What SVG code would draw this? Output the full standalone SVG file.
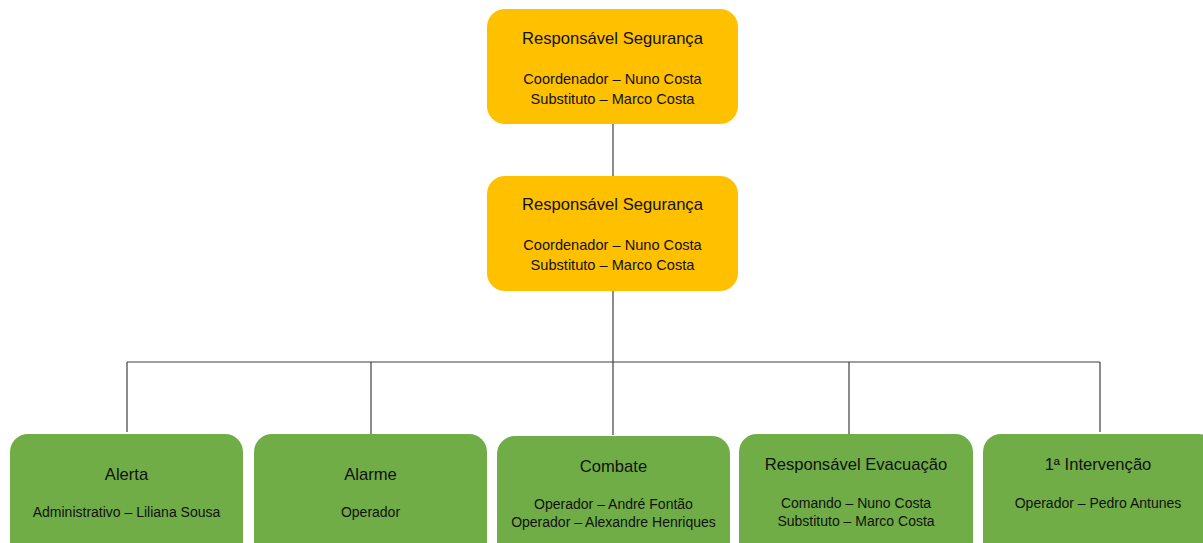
<svg xmlns="http://www.w3.org/2000/svg" width="1203" height="543" viewBox="0 0 1203 543">
<style>
.o{fill:#FFC000}
.g{fill:#70AD47}
text{font-family:"Liberation Sans",Arial,sans-serif;fill:#111;text-anchor:middle}
.t{font-size:16.6px}
.s{font-size:14.6px}
.tg{font-size:16.6px}
.sg{font-size:14px}
.c{stroke:#404040;stroke-width:1.2;fill:none}
</style>
<rect width="1203" height="543" fill="#fff"/>
<g id="connectors">
<path class="c" d="M613 124V176M613 291V362M127 362H1100M127 362V432M371 362V434M613 362V435M849 362V434M1100 362V432"/>
</g>
<g id="top">
<rect class="o" x="487" y="9" width="251" height="115" rx="18"/>
<text class="t" x="612.5" y="44">Responsável Segurança</text>
<text class="s" x="612.5" y="84">Coordenador – Nuno Costa</text>
<text class="s" x="612.5" y="104">Substituto – Marco Costa</text>
</g>
<g id="second">
<rect class="o" x="487" y="176" width="251" height="115" rx="18"/>
<text class="t" x="612.5" y="210">Responsável Segurança</text>
<text class="s" x="612.5" y="250">Coordenador – Nuno Costa</text>
<text class="s" x="612.5" y="270">Substituto – Marco Costa</text>
</g>
<g id="alerta">
<rect class="g" x="10" y="434" width="233" height="130" rx="18"/>
<text class="tg" x="126.5" y="480">Alerta</text>
<text class="sg" x="126.5" y="517">Administrativo – Liliana Sousa</text>
</g>
<g id="alarme">
<rect class="g" x="254" y="434" width="233" height="130" rx="18"/>
<text class="tg" x="370.5" y="480">Alarme</text>
<text class="sg" x="370.5" y="517">Operador</text>
</g>
<g id="combate">
<rect class="g" x="497" y="436" width="233" height="130" rx="18"/>
<text class="tg" x="613.5" y="472">Combate</text>
<text class="sg" x="613.5" y="509">Operador – André Fontão</text>
<text class="sg" x="613.5" y="527">Operador – Alexandre Henriques</text>
</g>
<g id="evacuacao">
<rect class="g" x="739" y="434" width="234" height="130" rx="18"/>
<text class="tg" x="856" y="470">Responsável Evacuação</text>
<text class="sg" x="856" y="508">Comando – Nuno Costa</text>
<text class="sg" x="856" y="526">Substituto – Marco Costa</text>
</g>
<g id="intervencao">
<rect class="g" x="983" y="434" width="234" height="130" rx="18"/>
<text class="tg" x="1098" y="470">1ª Intervenção</text>
<text class="sg" x="1098" y="508">Operador – Pedro Antunes</text>
</g>
</svg>
